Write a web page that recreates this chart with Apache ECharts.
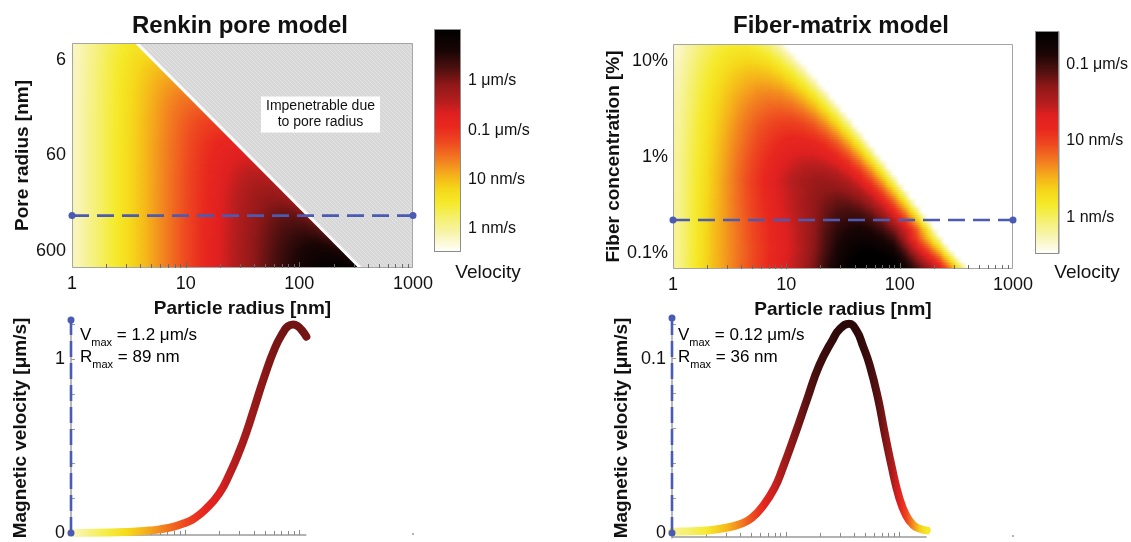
<!DOCTYPE html>
<html>
<head>
<meta charset="utf-8">
<title>Renkin pore model / Fiber-matrix model</title>
<script src="https://cdn.jsdelivr.net/npm/echarts@6.0.0/dist/echarts.min.js"></script>
<style>
  html, body { margin: 0; padding: 0; background: #fff; }
  #chart { width: 1131px; height: 542px; }
</style>
</head>
<body>
<div id="chart"></div>
<script>
// ---------- values ----------

// heatmap column centres (particle radius, nm), one every 0.1 decade
const particleRadius = [1.12, 1.41, 1.78, 2.24, 2.82, 3.55, 4.47, 5.62, 7.08, 8.91,
  11.2, 14.1, 17.8, 22.4, 28.2, 35.5, 44.7, 56.2, 70.8, 89.1,
  112, 141, 178, 224, 282, 355, 447, 562, 708, 891];

// Renkin rows (pore radius, nm), top to bottom
const poreRadius = [4.47, 5.62, 7.08, 8.91, 11.2, 14.1, 17.8, 22.4, 28.2, 35.5, 44.7, 56.2,
  70.8, 89.1, 112, 141, 178, 224, 282, 355, 447, 562, 708, 891];

// log10 of velocity in nm/s, one row per pore radius, left part only (up to the cut-off line)
const renkinLogV = [
  [-0.17, 0.01, 0.19, 0.36, 0.50, 0.62, 0.68],
  [-0.17, 0.02, 0.21, 0.39, 0.55, 0.69, 0.79, 0.84],
  [-0.16, 0.03, 0.22, 0.41, 0.58, 0.74, 0.87, 0.97, 1.00],
  [-0.16, 0.04, 0.23, 0.42, 0.60, 0.77, 0.92, 1.05, 1.13, 1.15],
  [-0.16, 0.04, 0.24, 0.43, 0.62, 0.79, 0.96, 1.11, 1.23, 1.30, 1.29],
  [-0.15, 0.04, 0.24, 0.43, 0.63, 0.81, 0.99, 1.15, 1.29, 1.40, 1.45],
  [-0.15, 0.05, 0.24, 0.44, 0.63, 0.82, 1.00, 1.18, 1.34, 1.47, 1.56, 1.59],
  [-0.15, 0.05, 0.25, 0.44, 0.64, 0.83, 1.02, 1.20, 1.37, 1.52, 1.64, 1.72, 1.73],
  [-0.15, 0.05, 0.25, 0.44, 0.64, 0.84, 1.03, 1.21, 1.39, 1.56, 1.70, 1.82, 1.88, 1.86],
  [-0.15, 0.05, 0.25, 0.45, 0.64, 0.84, 1.03, 1.22, 1.41, 1.58, 1.74, 1.88, 1.98, 2.02, 1.97],
  [-0.15, 0.05, 0.25, 0.45, 0.65, 0.84, 1.04, 1.23, 1.42, 1.60, 1.77, 1.93, 2.06, 2.14, 2.16, 2.07],
  [-0.15, 0.05, 0.25, 0.45, 0.65, 0.85, 1.04, 1.24, 1.43, 1.61, 1.79, 1.96, 2.11, 2.22, 2.29, 2.28],
  [-0.15, 0.05, 0.25, 0.45, 0.65, 0.85, 1.04, 1.24, 1.43, 1.62, 1.81, 1.98, 2.14, 2.28, 2.38, 2.43, 2.38],
  [-0.15, 0.05, 0.25, 0.45, 0.65, 0.85, 1.05, 1.24, 1.44, 1.63, 1.82, 2.00, 2.17, 2.33, 2.45, 2.54, 2.56, 2.47],
  [-0.15, 0.05, 0.25, 0.45, 0.65, 0.85, 1.05, 1.24, 1.44, 1.64, 1.83, 2.01, 2.19, 2.36, 2.50, 2.62, 2.68, 2.66, 2.52],
  [-0.15, 0.05, 0.25, 0.45, 0.65, 0.85, 1.05, 1.25, 1.44, 1.64, 1.83, 2.02, 2.21, 2.38, 2.54, 2.68, 2.78, 2.82, 2.76, 2.56],
  [-0.15, 0.05, 0.25, 0.45, 0.65, 0.85, 1.05, 1.25, 1.45, 1.64, 1.84, 2.03, 2.22, 2.40, 2.57, 2.72, 2.85, 2.93, 2.94, 2.84, 2.56],
  [-0.15, 0.05, 0.25, 0.45, 0.65, 0.85, 1.05, 1.25, 1.45, 1.65, 1.84, 2.03, 2.23, 2.41, 2.59, 2.75, 2.90, 3.01, 3.07, 3.05, 2.90],
  [-0.15, 0.05, 0.25, 0.45, 0.65, 0.85, 1.05, 1.25, 1.45, 1.65, 1.85, 2.04, 2.23, 2.42, 2.61, 2.78, 2.94, 3.08, 3.18, 3.21, 3.16, 2.95],
  [-0.15, 0.05, 0.25, 0.45, 0.65, 0.85, 1.05, 1.25, 1.45, 1.65, 1.85, 2.05, 2.24, 2.43, 2.62, 2.80, 2.97, 3.13, 3.26, 3.34, 3.36, 3.27, 3.02],
  [-0.15, 0.05, 0.25, 0.45, 0.65, 0.85, 1.05, 1.25, 1.45, 1.65, 1.85, 2.05, 2.25, 2.44, 2.63, 2.82, 3.00, 3.16, 3.31, 3.43, 3.51, 3.51, 3.39, 3.08],
  [-0.15, 0.05, 0.25, 0.45, 0.65, 0.85, 1.05, 1.25, 1.45, 1.65, 1.85, 2.05, 2.25, 2.44, 2.64, 2.83, 3.01, 3.19, 3.36, 3.50, 3.62, 3.68, 3.66, 3.52, 3.17],
  [-0.15, 0.05, 0.25, 0.45, 0.65, 0.85, 1.05, 1.25, 1.45, 1.65, 1.85, 2.05, 2.25, 2.45, 2.64, 2.83, 3.02, 3.21, 3.39, 3.55, 3.69, 3.80, 3.85, 3.82, 3.65, 3.26],
  [-0.15, 0.05, 0.25, 0.45, 0.65, 0.85, 1.05, 1.25, 1.45, 1.65, 1.85, 2.05, 2.25, 2.45, 2.65, 2.84, 3.03, 3.22, 3.41, 3.58, 3.74, 3.88, 3.98, 4.02, 3.97, 3.77]
];

// fiber-matrix rows (fiber concentration, %), top to bottom
const fiberConc = [14.1, 11.2, 8.91, 7.08, 5.62, 4.47, 3.55, 2.82, 2.24, 1.78, 1.41, 1.12,
  0.891, 0.708, 0.562, 0.447, 0.355, 0.282, 0.224, 0.178, 0.141, 0.112, 0.0891, 0.0708];

// log10 of velocity in nm/s; past the end of a row the map is white
const fiberLogV = [
  [-0.32, -0.18, -0.05, 0.05, 0.13, 0.17, 0.17, 0.10, -0.04, -0.27, -0.64],
  [-0.30, -0.15, -0.01, 0.11, 0.20, 0.26, 0.28, 0.25, 0.15, -0.03, -0.32, -0.76],
  [-0.27, -0.12, 0.03, 0.15, 0.26, 0.34, 0.38, 0.38, 0.32, 0.18, -0.05, -0.40, -0.92],
  [-0.25, -0.09, 0.06, 0.19, 0.31, 0.41, 0.47, 0.49, 0.46, 0.37, 0.19, -0.09, -0.52],
  [-0.24, -0.07, 0.09, 0.23, 0.36, 0.46, 0.54, 0.59, 0.59, 0.53, 0.40, 0.18, -0.17, -0.68],
  [-0.22, -0.05, 0.11, 0.26, 0.40, 0.52, 0.61, 0.68, 0.70, 0.68, 0.59, 0.42, 0.14, -0.28, -0.88],
  [-0.21, -0.04, 0.13, 0.29, 0.43, 0.56, 0.67, 0.75, 0.80, 0.80, 0.75, 0.62, 0.41, 0.06, -0.43, -1.13],
  [-0.20, -0.02, 0.15, 0.31, 0.46, 0.60, 0.72, 0.82, 0.88, 0.91, 0.89, 0.81, 0.64, 0.37, -0.04, -0.63],
  [-0.19, -0.01, 0.17, 0.33, 0.49, 0.64, 0.77, 0.88, 0.96, 1.01, 1.02, 0.97, 0.85, 0.63, 0.30, -0.19, -0.87],
  [-0.18, 0.00, 0.18, 0.35, 0.51, 0.67, 0.81, 0.93, 1.02, 1.09, 1.12, 1.10, 1.02, 0.86, 0.59, 0.19, -0.38, -1.18],
  [-0.17, 0.01, 0.19, 0.37, 0.54, 0.69, 0.84, 0.97, 1.08, 1.17, 1.22, 1.23, 1.18, 1.07, 0.86, 0.53, 0.06, -0.62],
  [-0.17, 0.02, 0.20, 0.38, 0.55, 0.72, 0.87, 1.01, 1.13, 1.23, 1.30, 1.33, 1.32, 1.24, 1.08, 0.82, 0.43, -0.14, -0.92],
  [-0.16, 0.03, 0.21, 0.39, 0.57, 0.74, 0.90, 1.04, 1.17, 1.29, 1.37, 1.43, 1.44, 1.40, 1.28, 1.08, 0.76, 0.29, -0.37, -1.28],
  [-0.16, 0.04, 0.22, 0.41, 0.58, 0.76, 0.92, 1.07, 1.21, 1.34, 1.44, 1.51, 1.55, 1.53, 1.46, 1.31, 1.06, 0.67, 0.12, -0.65],
  [-0.15, 0.04, 0.23, 0.41, 0.60, 0.77, 0.94, 1.10, 1.25, 1.38, 1.49, 1.58, 1.64, 1.65, 1.61, 1.50, 1.30, 0.99, 0.53, -0.12, -1.01],
  [-0.15, 0.05, 0.24, 0.42, 0.60, 0.76, 0.93, 1.08, 1.23, 1.36, 1.47, 1.57, 1.66, 1.71, 1.72, 1.66, 1.53, 1.28, 0.90, 0.36, -0.40, -1.43],
  [-0.14, 0.05, 0.24, 0.43, 0.60, 0.77, 0.92, 1.07, 1.21, 1.35, 1.46, 1.58, 1.69, 1.77, 1.83, 1.81, 1.72, 1.53, 1.23, 0.78, 0.14, -0.74],
  [-0.14, 0.05, 0.25, 0.44, 0.60, 0.76, 0.92, 1.06, 1.20, 1.33, 1.45, 1.58, 1.70, 1.82, 1.91, 1.94, 1.89, 1.75, 1.51, 1.14, 0.61, -0.14, -1.15],
  [-0.14, 0.06, 0.25, 0.44, 0.60, 0.76, 0.90, 1.04, 1.18, 1.30, 1.42, 1.56, 1.70, 1.86, 1.99, 2.04, 2.04, 1.94, 1.76, 1.46, 1.02, 0.40, -0.47, -1.64],
  [-0.14, 0.06, 0.25, 0.45, 0.60, 0.74, 0.89, 1.03, 1.16, 1.29, 1.40, 1.54, 1.71, 1.90, 2.05, 2.14, 2.17, 2.11, 1.97, 1.74, 1.38, 0.86, 0.13, -0.87],
  [-0.13, 0.06, 0.26, 0.45, 0.60, 0.74, 0.89, 1.02, 1.16, 1.28, 1.39, 1.55, 1.72, 1.93, 2.11, 2.22, 2.28, 2.25, 2.16, 1.98, 1.56, 1.03, 0.46, -0.25, -1.32],
  [-0.13, 0.06, 0.26, 0.45, 0.60, 0.74, 0.87, 1.01, 1.14, 1.26, 1.38, 1.53, 1.73, 1.95, 2.16, 2.29, 2.38, 2.38, 2.32, 2.19, 1.81, 1.35, 0.89, 0.32, -0.57],
  [-0.13, 0.07, 0.26, 0.46, 0.60, 0.74, 0.88, 1.02, 1.15, 1.28, 1.40, 1.56, 1.76, 2.00, 2.21, 2.36, 2.47, 2.50, 2.47, 2.38, 2.05, 1.67, 1.30, 0.84, 0.11, -0.78],
  [-0.13, 0.07, 0.27, 0.46, 0.60, 0.75, 0.89, 1.03, 1.16, 1.29, 1.41, 1.58, 1.79, 2.03, 2.26, 2.42, 2.55, 2.59, 2.59, 2.54, 2.26, 1.94, 1.64, 1.29, 0.68, -0.04, -1.64]
];

// cut-off line of the Renkin map (particle radius, pore radius)
const boundaryParticle = [3.7, 345];
const boundaryPore = [4, 900];

// dashed cross-sections
const cutPore = 255;      // nm
const cutFiber = 0.22;    // %

// magnetic velocity along the cross-sections (um/s)
const renkinCurveRadius = [1, 1.5, 2, 3, 4, 5, 6, 8, 10, 12, 15, 20, 25, 30, 35, 41, 50, 61.5, 72.6, 80, 89, 98, 105, 110, 116];
const renkinCurveVel = [0.0006, 0.0014, 0.0024, 0.0054, 0.0096, 0.015, 0.021, 0.037, 0.058, 0.083, 0.134, 0.228,
  0.35, 0.47, 0.59, 0.73, 0.905, 1.065, 1.155, 1.19, 1.2, 1.19, 1.17, 1.153, 1.13];
const fiberCurveRadius = [1, 1.5, 2, 3, 4, 5, 6.4, 8, 9.4, 12.3, 15.5, 19.7, 26, 30, 36, 42, 48, 55, 65, 74, 85, 100, 115, 132, 150, 174];
const fiberCurveVel = [0.0007, 0.001, 0.0014, 0.003, 0.0052, 0.0085, 0.016, 0.026, 0.037, 0.058, 0.077, 0.096,
  0.111, 0.117, 0.12, 0.116, 0.107, 0.096, 0.077, 0.058, 0.039, 0.02, 0.01, 0.0047, 0.0025, 0.0015];

const peakVelocity = [1.2, 0.12];  // um/s
const peakRadius = [89, 36];       // nm

// ticks and labels
const xLabelValues = [1, 10, 100, 1000];
const xTickValues = [2, 3, 4, 5, 6, 7, 8, 9, 10, 20, 30, 40, 50, 60, 70, 80, 90, 100, 200, 300, 400, 500, 600, 700, 800, 900];
const poreTicks = [6, 60, 600];
const fiberTicks = [0.1, 1, 10];
const renkinVelTicks = [0, 0.2, 0.4, 0.6, 0.8, 1, 1.2];
const renkinVelLabels = [0, 1];
const fiberVelTicks = [0, 0.02, 0.04, 0.06, 0.08, 0.1, 0.12];
const fiberVelLabels = [0, 0.1];
const renkinBarTicks = [0, 1, 2, 3];
const renkinBarLabels = ['1 nm/s', '10 nm/s', '0.1 μm/s', '1 μm/s'];
const fiberBarTicks = [0, 1, 2];
const fiberBarLabels = ['1 nm/s', '10 nm/s', '0.1 μm/s'];

// ---------- styling ----------
const FONT = '"Liberation Sans", Arial, Helvetica, sans-serif';
const RENKIN_RANGE = [-0.48, 4.06];       // colour bar extent, log10 nm/s
const FIBER_RANGE = [-0.48, 2.44];
const velocityStops = [
  [0, '#ffffff'], [0.08, '#f8f4b0'], [0.15, '#f5f070'], [0.22, '#f5ea2a'], [0.28, '#f5d81a'],
  [0.34, '#f5b41a'], [0.41, '#f28020'], [0.49, '#ee4a20'], [0.56, '#e8281e'], [0.62, '#e02020'],
  [0.67, '#b81e1e'], [0.75, '#901818'], [0.82, '#501010'], [0.90, '#1a0505'], [1, '#000000']
];
const BLUE = '#4b5bb3';

function clamp(v, lo, hi) { return Math.max(lo, Math.min(hi, v)); }

function hexRgb(h) {
  return [parseInt(h.slice(1, 3), 16), parseInt(h.slice(3, 5), 16), parseInt(h.slice(5, 7), 16)];
}
function colorFor(L, range) {
  const p = clamp((L - range[0]) / (range[1] - range[0]), 0, 1);
  let k = 0;
  while (k < velocityStops.length - 2 && p > velocityStops[k + 1][0]) k++;
  const [p0, c0] = velocityStops[k], [p1, c1] = velocityStops[k + 1];
  const t = (p - p0) / (p1 - p0);
  const a = hexRgb(c0), b = hexRgb(c1);
  return 'rgb(' + a.map((c, i) => Math.round(c + (b[i] - c) * t)).join(',') + ')';
}

// one node per grid cell centre; each node shades the patch towards its right/lower neighbours
function gridNodes(cols, rows) {
  const out = [];
  rows.forEach((y, i) => cols.forEach((x, j) => out.push([x, y, i, j])));
  return out;
}

function shadedMap(cols, rows, grid, range, fillLow) {
  const LOW = range[0] - 0.6;
  const at = (a, b) => (grid[a] && b < grid[a].length) ? grid[a][b] : null;
  const pick = (...vs) => { for (const v of vs) if (v != null) return v; return null; };
  const mix = (a, b, t) => a + (b - a) * t;
  return function (params, api) {
    const i = api.value(2), j = api.value(3);
    const o00 = at(i, j), o01 = at(i, j + 1), o10 = at(i + 1, j), o11 = at(i + 1, j + 1);
    if (o00 == null && o01 == null && o10 == null && o11 == null) return null;
    let v00, v01, v10, v11;
    if (fillLow) {
      v00 = pick(o00, LOW); v01 = pick(o01, LOW); v10 = pick(o10, LOW); v11 = pick(o11, LOW);
    } else {
      v00 = pick(o00, o01, o10, o11); v01 = pick(o01, o00, o11, o10);
      v10 = pick(o10, o00, o11, o01); v11 = pick(o11, o10, o01, o00);
    }
    const lastCol = j === cols.length - 1, lastRow = i === rows.length - 1;
    const xr = cols[lastCol ? j : j + 1] / cols[lastCol ? j - 1 : j];
    const yr = rows[lastRow ? i : i + 1] / rows[lastRow ? i - 1 : i];
    const c0 = api.coord([cols[j], rows[i]]);
    const xa = c0[0], ya = c0[1];
    const xb = api.coord([lastCol ? cols[j] * Math.sqrt(xr) : cols[j + 1], rows[i]])[0];
    const yb = api.coord([cols[j], lastRow ? rows[i] * Math.sqrt(yr) : rows[i + 1]])[1];
    const xs = j === 0 ? api.coord([cols[0] / Math.sqrt(xr), rows[i]])[0] : xa;
    const ys = i === 0 ? api.coord([cols[j], rows[0] / Math.sqrt(yr)])[1] : ya;
    // snap patch edges to whole pixels so neighbouring patches meet without seams
    const X0 = Math.round(Math.min(xs, xb)), X1 = Math.round(Math.max(xs, xb));
    const n = Math.max(1, Math.round(Math.abs(yb - ys) / 2));
    const kids = [];
    for (let k = 0; k < n; k++) {
      const y0 = Math.round(ys + (yb - ys) * k / n), y1 = Math.round(ys + (yb - ys) * (k + 1) / n);
      if (y0 === y1) continue;
      const t = lastRow ? 0 : clamp(((y0 + y1) / 2 - ya) / (yb - ya), 0, 1);
      const Ll = mix(v00, v10, t), Lr = mix(v01, v11, t);
      const fill = lastCol ? colorFor(Ll, range) : new echarts.graphic.LinearGradient(xa, 0, xb, 0, [
        { offset: 0, color: colorFor(Ll, range) },
        { offset: 0.5, color: colorFor((Ll + Lr) / 2, range) },
        { offset: 1, color: colorFor(Lr, range) }
      ], true);
      kids.push({
        type: 'rect',
        shape: { x: X0, y: Math.min(y0, y1), width: X1 - X0, height: Math.abs(y1 - y0) },
        style: { fill: fill }
      });
    }
    return { type: 'group', children: kids };
  };
}

// light grey hatch for the impenetrable triangle
const hatchCanvas = document.createElement('canvas');
hatchCanvas.width = 4; hatchCanvas.height = 4;
const hc = hatchCanvas.getContext('2d');
hc.fillStyle = '#d7d7d7'; hc.fillRect(0, 0, 4, 4);
hc.strokeStyle = '#e3e3e3'; hc.lineWidth = 1;
hc.beginPath(); hc.moveTo(0, 0); hc.lineTo(4, 4); hc.stroke();

function impenetrableItem(params, api) {
  const pts = [
    api.coord([boundaryParticle[0], boundaryPore[0]]),
    api.coord([boundaryParticle[1], boundaryPore[1]]),
    api.coord([1000, boundaryPore[1]]),
    api.coord([1000, boundaryPore[0]])
  ];
  return { type: 'polygon', shape: { points: pts }, style: { fill: { image: hatchCanvas, repeat: 'repeat' } } };
}

function topFrame(yRef) {
  return function (params, api) {
    const cs = params.coordSys;
    const bottom = cs.y + cs.height;
    const kids = [{
      type: 'rect',
      shape: { x: cs.x + 0.5, y: cs.y + 0.5, width: cs.width - 1, height: cs.height - 1 },
      style: { fill: 'none', stroke: '#a5a5a5', lineWidth: 1 }
    }];
    xTickValues.forEach(t => {
      const x = Math.round(api.coord([t, yRef])[0]) + 0.5;
      const len = (t === 10 || t === 100) ? 6 : 4;
      kids.push({ type: 'line', shape: { x1: x, y1: bottom, x2: x, y2: bottom - len }, style: { stroke: '#6a6a6a', lineWidth: 1 } });
    });
    return { type: 'group', children: kids };
  };
}

function bottomFrame(rEnd, yRef) {
  return function (params, api) {
    const cs = params.coordSys;
    const bottom = cs.y + cs.height - 1;
    const xs = api.coord([1, yRef])[0], xe = api.coord([rEnd, yRef])[0];
    const kids = [{ type: 'line', shape: { x1: xs, y1: bottom, x2: xe, y2: bottom }, style: { stroke: '#9a9a9a', lineWidth: 1.5 } }];
    xTickValues.forEach(t => {
      if (t > rEnd) return;
      const x = Math.round(api.coord([t, yRef])[0]) + 0.5;
      const len = (t === 10 || t === 100) ? 5 : 4;
      kids.push({ type: 'line', shape: { x1: x, y1: bottom, x2: x, y2: bottom - len }, style: { stroke: '#8a8a8a', lineWidth: 1 } });
    });
    const xm = api.coord([1000, yRef])[0];
    kids.push({ type: 'circle', shape: { cx: xm, cy: bottom - 1, r: 1 }, style: { fill: '#9a9a9a' } });
    return { type: 'group', children: kids };
  };
}

function colorBarItem(params, api) {
  const cs = params.coordSys;
  const stops = velocityStops.map(s => ({ offset: s[0], color: s[1] }));
  return {
    type: 'rect',
    shape: { x: cs.x + 0.5, y: cs.y + 0.5, width: cs.width - 1, height: cs.height - 1 },
    style: { fill: new echarts.graphic.LinearGradient(0, 1, 0, 0, stops), stroke: '#8c8c8c', lineWidth: 1 }
  };
}

const nameStyle = { fontSize: 19, fontWeight: 'bold', color: '#111', fontFamily: FONT };
const tickLabel = { fontSize: 18, color: '#111', fontFamily: FONT };
const hidden = { axisLine: { show: false }, axisTick: { show: false }, splitLine: { show: false } };

function topX(grid) {
  return Object.assign({
    gridIndex: grid, type: 'log', logBase: 10, min: 1, max: 1000,
    name: 'Particle radius [nm]', nameLocation: 'middle', nameGap: 31, nameTextStyle: nameStyle,
    axisLabel: Object.assign({ customValues: xLabelValues, margin: 7, formatter: v => String(Math.round(v)) }, tickLabel)
  }, hidden);
}
function plainLogX(grid) {
  return Object.assign({ gridIndex: grid, type: 'log', logBase: 10, min: 1, max: 1000, axisLabel: { show: false } }, hidden);
}
function velocityY(grid, min, max, ticks, labels) {
  return {
    gridIndex: grid, type: 'value', min: min, max: max,
    name: 'Magnetic velocity [μm/s]', nameLocation: 'middle', nameGap: 41, nameTextStyle: nameStyle,
    axisLine: { show: true, lineStyle: { color: '#a0a0a0', width: 1.5 } },
    axisTick: { show: true, inside: true, length: 4, customValues: ticks, lineStyle: { color: '#9a9a9a' } },
    axisLabel: Object.assign({ customValues: labels, margin: 6, formatter: v => String(v) }, tickLabel),
    splitLine: { show: false }
  };
}
function barY(grid, range, ticks, labels) {
  return Object.assign({
    gridIndex: grid, type: 'value', min: range[0], max: range[1], position: 'right',
    axisLabel: { customValues: ticks, margin: 7, fontSize: 16, color: '#111', fontFamily: FONT,
      formatter: v => labels[ticks.indexOf(Math.round(v))] }
  }, hidden);
}

const richText = {
  m: { fontSize: 17, color: '#111', fontFamily: FONT, lineHeight: 26, verticalAlign: 'middle' },
  s: { fontSize: 11, color: '#111', fontFamily: FONT, lineHeight: 26, verticalAlign: 'bottom' }
};
function peakText(x, y, sym, value) {
  return { type: 'text', x: x, y: y, z: 100,
    style: { text: '{m|' + sym + '}{s|max}{m| = ' + value + '}', rich: richText, align: 'left', verticalAlign: 'middle' } };
}
function plainText(x, y, text, size, weight) {
  return { type: 'text', x: x, y: y, z: 100,
    style: { text: text, fontSize: size, fontWeight: weight || 'normal', fill: '#111', fontFamily: FONT, align: 'center', verticalAlign: 'middle' } };
}

const dashed = (xi, yi, data, dash) => ({
  type: 'line', xAxisIndex: xi, yAxisIndex: yi, data: data, z: 6, clip: false,
  symbol: 'circle', symbolSize: 7, showSymbol: true, silent: true,
  itemStyle: { color: BLUE }, lineStyle: { color: BLUE, width: 2.6, type: dash }
});

const curve = (id, xi, radii, vel, baseColor) => ({
  id: id, type: 'line', xAxisIndex: xi, yAxisIndex: xi, z: 3, silent: true, clip: false,
  data: radii.map((r, i) => [r, vel[i]]),
  showSymbol: false, symbol: 'none', smooth: 0.5,
  lineStyle: { width: 8, cap: 'round', join: 'round', color: baseColor }
});

const option = {
  animation: false,
  textStyle: { fontFamily: FONT },
  grid: [
    { left: 72, top: 43, width: 341, height: 225 },
    { left: 673, top: 44, width: 340, height: 225 },
    { left: 71, top: 320, width: 342, height: 220 },
    { left: 672, top: 318, width: 341, height: 222 },
    { left: 434, top: 29, width: 27, height: 223 },
    { left: 1035, top: 31, width: 26, height: 223 }
  ],
  xAxis: [
    topX(0), topX(1), plainLogX(2), plainLogX(3),
    { gridIndex: 4, type: 'value', show: false, min: 0, max: 1 },
    { gridIndex: 5, type: 'value', show: false, min: 0, max: 1 }
  ],
  yAxis: [
    Object.assign({
      gridIndex: 0, type: 'log', logBase: 10, min: 4, max: 900, inverse: true,
      name: 'Pore radius [nm]', nameLocation: 'middle', nameGap: 40, nameTextStyle: nameStyle,
      axisLabel: Object.assign({ customValues: poreTicks, margin: 6, formatter: v => String(Math.round(v)) }, tickLabel)
    }, hidden),
    Object.assign({
      gridIndex: 1, type: 'log', logBase: 10, min: 0.068, max: 14.9,
      name: 'Fiber concentration [%]', nameLocation: 'middle', nameGap: 48, nameTextStyle: nameStyle,
      axisLabel: Object.assign({ customValues: fiberTicks, margin: 5, formatter: v => (Math.round(v * 1000) / 1000) + '%' }, tickLabel)
    }, hidden),
    velocityY(2, -0.017, 1.226, renkinVelTicks, renkinVelLabels),
    velocityY(3, -0.0028, 0.1233, fiberVelTicks, fiberVelLabels),
    barY(4, RENKIN_RANGE, renkinBarTicks, renkinBarLabels),
    barY(5, FIBER_RANGE, fiberBarTicks, fiberBarLabels)
  ],
  series: [
    // Renkin map
    { type: 'custom', xAxisIndex: 0, yAxisIndex: 0, data: gridNodes(particleRadius, poreRadius),
      renderItem: shadedMap(particleRadius, poreRadius, renkinLogV, RENKIN_RANGE, false),
      encode: { x: 0, y: 1 }, clip: true, z: 1, progressive: 0, silent: true },
    // impenetrable region
    { type: 'custom', xAxisIndex: 0, yAxisIndex: 0, data: [[boundaryParticle[1], boundaryPore[1]]],
      renderItem: impenetrableItem, clip: true, z: 2, silent: true },
    // cut-off line
    { type: 'line', xAxisIndex: 0, yAxisIndex: 0, z: 3, silent: true, symbol: 'none',
      data: [[boundaryParticle[0], boundaryPore[0]], [boundaryParticle[1], boundaryPore[1]]],
      lineStyle: { color: '#ffffff', width: 3 } },
    dashed(0, 0, [[1, cutPore], [1000, cutPore]], [17, 8]),
    { type: 'custom', xAxisIndex: 0, yAxisIndex: 0, data: [[1, 60]], renderItem: topFrame(60), z: 5, silent: true, clip: false },
    // fiber map
    { type: 'custom', xAxisIndex: 1, yAxisIndex: 1, data: gridNodes(particleRadius, fiberConc),
      renderItem: shadedMap(particleRadius, fiberConc, fiberLogV, FIBER_RANGE, true),
      encode: { x: 0, y: 1 }, clip: true, z: 1, progressive: 0, silent: true },
    dashed(1, 1, [[1, cutFiber], [1000, cutFiber]], [17, 8]),
    { type: 'custom', xAxisIndex: 1, yAxisIndex: 1, data: [[1, 1]], renderItem: topFrame(1), z: 5, silent: true, clip: false },
    // colour bars
    { type: 'custom', xAxisIndex: 4, yAxisIndex: 4, data: [[0.5, 0]], renderItem: colorBarItem, silent: true, clip: false },
    { type: 'custom', xAxisIndex: 5, yAxisIndex: 5, data: [[0.5, 0]], renderItem: colorBarItem, silent: true, clip: false },
    // velocity curves
    curve('renkinCurve', 2, renkinCurveRadius, renkinCurveVel, '#b01c1c'),
    dashed(2, 2, [[1, 0], [1, 1.226]], [16, 6]),
    { type: 'custom', xAxisIndex: 2, yAxisIndex: 2, data: [[1, 0.5]],
      renderItem: bottomFrame(renkinCurveRadius[renkinCurveRadius.length - 1], 0.5), z: 2, silent: true, clip: false },
    curve('fiberCurve', 3, fiberCurveRadius, fiberCurveVel, '#5a1010'),
    dashed(3, 3, [[1, 0], [1, 0.1233]], [16, 6]),
    { type: 'custom', xAxisIndex: 3, yAxisIndex: 3, data: [[1, 0.05]],
      renderItem: bottomFrame(fiberCurveRadius[fiberCurveRadius.length - 1], 0.05), z: 2, silent: true, clip: false }
  ],
  graphic: {
    elements: [
      plainText(240, 26, 'Renkin pore model', 24, 'bold'),
      plainText(841, 26, 'Fiber-matrix model', 24, 'bold'),
      { type: 'text', x: 320.5, y: 114.5, z: 100,
        style: { text: 'Impenetrable due\nto pore radius', fontSize: 14, lineHeight: 16, fill: '#111', fontFamily: FONT,
          align: 'center', verticalAlign: 'middle', backgroundColor: '#ffffff', padding: [2, 5] } },
      plainText(488, 273, 'Velocity', 19),
      plainText(1087, 273, 'Velocity', 19),
      peakText(80, 335, 'V', peakVelocity[0] + ' μm/s'),
      peakText(80, 357, 'R', peakRadius[0] + ' nm'),
      peakText(678, 335, 'V', peakVelocity[1] + ' μm/s'),
      peakText(678, 357, 'R', peakRadius[1] + ' nm')
    ]
  }
};

const chart = echarts.init(document.getElementById('chart'), null, { renderer: 'canvas' });
chart.setOption(option);

// colour the curves by velocity, using the positions the axes gave each point
function curveGradient(id, radii, vel, range) {
  const pts = radii.map((r, i) => chart.convertToPixel({ seriesId: id }, [r, vel[i]]));
  const x0 = pts[0][0], x1 = pts[pts.length - 1][0];
  const stops = pts.map((p, i) => ({
    offset: clamp((p[0] - x0) / (x1 - x0), 0, 1),
    color: colorFor(Math.log10(vel[i] * 1000), range)
  }));
  return new echarts.graphic.LinearGradient(x0, 0, x1, 0, stops, true);
}
chart.setOption({
  series: [
    { id: 'renkinCurve', lineStyle: { color: curveGradient('renkinCurve', renkinCurveRadius, renkinCurveVel, RENKIN_RANGE) } },
    { id: 'fiberCurve', lineStyle: { color: curveGradient('fiberCurve', fiberCurveRadius, fiberCurveVel, FIBER_RANGE) } }
  ]
});
</script>
</body>
</html>
